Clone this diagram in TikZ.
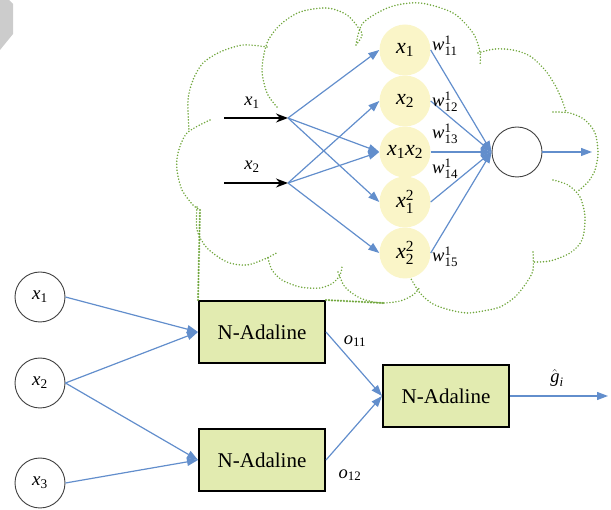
\documentclass[tikz,border=0pt]{standalone}
\usepackage{amsmath}
\usepackage{fontspec}
\setmainfont{Liberation Serif}
\usetikzlibrary{arrows.meta}
\definecolor{linkblue}{RGB}{98,142,204}
\definecolor{puffgreen}{RGB}{112,166,60}
\definecolor{termfill}{RGB}{250,245,200}
\definecolor{boxfill}{RGB}{226,235,176}
\newcommand{\vb}[1]{\text{\itshape #1}}
\newcommand{\ix}[1]{\text{#1}}

\begin{document}
\begin{tikzpicture}[x=1pt, y=-1pt,
        term/.style={circle, fill=termfill, minimum size=51pt, inner sep=0pt, font=\fontsize{22}{26}\selectfont},
        unit/.style={circle, draw=black!75, line width=0.9pt, fill=white, minimum size=50pt, inner sep=0pt, font=\fontsize{19}{23}\selectfont},
        adaline/.style={draw=black, line width=2pt, fill=boxfill, minimum width=126pt, minimum height=62pt, font=\fontsize{21}{25}\selectfont},
        wire/.style={linkblue, line width=1.2pt, -{Triangle[length=11pt, width=8pt]}},
        feed/.style={black, line width=1.5pt, -{Stealth[length=12pt, width=9pt]}},
        puff/.style={puffgreen, line width=1.7pt, line cap=round, dash pattern=on 0pt off 3pt},
        tag/.style={font=\fontsize{18.5}{22}\selectfont, inner sep=1pt}]
        \useasboundingbox (0, 0) rectangle (611, 510);

        % page corner
        \fill[black!20] (0, 0) -- (9, 0) -- (13, 4) -- (13, 34) -- (0, 50) -- cycle;

        % cloud
        \draw[puff] plot[smooth] coordinates {(277,107) (267,93) (262,70) (267,43) (280,25) (300,12) (327,8) (347,15) (360,30) (362,36) (356,45)};
        \draw[puff] plot[smooth] coordinates {(356,45) (363,23) (390,7) (420,3) (453,13) (473,33) (480,52) (480,65)};
        \draw[puff] plot[smooth] coordinates {(478,53) (495,49) (513,50) (530,56) (545,70) (555,85) (562,100) (566,112)};
        \draw[puff] plot[smooth] coordinates {(553,112) (570,113) (585,120) (595,133) (598,153) (595,170) (588,182) (577,192)};
        \draw[puff] plot[smooth] coordinates {(553,180) (568,185) (580,197) (585,217) (582,240) (570,253) (550,261) (533,262)};
        \draw[puff] plot[smooth] coordinates {(533,252) (533,270) (527,282) (515,297) (500,307) (483,311) (467,313) (450,310) (433,304) (420,293) (410,277)};
        \draw[puff] plot[smooth] coordinates {(338,272) (345,287) (360,298) (380,303) (400,301) (413,295) (420,287)};
        \draw[puff] plot[smooth] coordinates {(268,258) (272,270) (282,280) (300,287) (320,288) (333,283) (340,275) (342,267)};
        \draw[puff] plot[smooth] coordinates {(197,207) (197,230) (207,248) (227,262) (247,265) (267,258) (278,252)};
        \draw[puff] plot[smooth] coordinates {(210,120) (187,133) (178,153) (177,170) (182,190) (193,205) (200,210)};
        \draw[puff] plot[smooth] coordinates {(267,47) (243,45) (220,52) (203,63) (193,80) (188,100) (189,130)};

        % inside the cloud
        \node (y1) at (405, 50)[term] {$\vb{x}_{\ix{1}}$};
        \node (y2) at (405, 101)[term] {$\vb{x}_{\ix{2}}$};
        \node (y3) at (405, 152)[term] {$\vb{x}_{\ix{1}}\vb{x}_{\ix{2}}$};
        \node (y4) at (405, 202)[term] {$\vb{x}_{\ix{1}}^{\ix{2}}$};
        \node (y5) at (405, 253)[term] {$\vb{x}_{\ix{2}}^{\ix{2}}$};
        \node (out) at (517, 152)[unit] {};
        \coordinate (outend) at (592, 152);

        \coordinate (s1) at (224, 118);
        \coordinate (s2) at (224, 183);
        \coordinate (in1) at (288, 118);
        \coordinate (in2) at (288, 183);
        \node[tag] at (252, 103) {$\vb{x}_{\ix{1}}$};
        \node[tag] at (252, 167) {$\vb{x}_{\ix{2}}$};

        \draw[feed] (s1) -- (in1);
        \draw[feed] (s2) -- (in2);
        \draw[wire] (in1) -- (y1.west);
        \draw[wire] (in1) -- (y3.west);
        \draw[wire] (in1) -- (y4.west);
        \draw[wire] (in2) -- (y2.west);
        \draw[wire] (in2) -- (y3.west);
        \draw[wire] (in2) -- (y5.west);

        \draw[wire] (y1.east) -- (out.west);
        \draw[wire] (y2.east) -- (out.west);
        \draw[wire] (y3.east) -- (out.west);
        \draw[wire] (y4.east) -- (out.west);
        \draw[wire] (y5.east) -- (out.west);
        \draw[wire] (out) -- (outend);

        \node[tag, anchor=west] at (431, 46) {$\vb{w}_{\ix{11}}^{\ix{1}}$};
        \node[tag, anchor=west] at (431, 102) {$\vb{w}_{\ix{12}}^{\ix{1}}$};
        \node[tag, anchor=west] at (431, 134) {$\vb{w}_{\ix{13}}^{\ix{1}}$};
        \node[tag, anchor=west] at (431, 169) {$\vb{w}_{\ix{14}}^{\ix{1}}$};
        \node[tag, anchor=west] at (431, 257) {$\vb{w}_{\ix{15}}^{\ix{1}}$};

        % network
        \node (x1) at (40, 297)[unit] {$\vb{x}_{\ix{1}}$};
        \node (x2) at (40, 383)[unit] {$\vb{x}_{\ix{2}}$};
        \node (x3) at (40, 483)[unit] {$\vb{x}_{\ix{3}}$};

        \node (a1) at (262, 332)[adaline] {N-Adaline};
        \node (a2) at (262, 460)[adaline] {N-Adaline};
        \node (a3) at (446, 396)[adaline] {N-Adaline};
        \coordinate (ghat) at (608, 396);

        \draw[wire] (x1.east) -- (a1.west);
        \draw[wire] (x2.east) -- (a1.west);
        \draw[wire] (x2.east) -- (a2.west);
        \draw[wire] (x3.east) -- (a2.west);
        \draw[wire] (a1.east) -- (a3.west);
        \draw[wire] (a2.east) -- (a3.west);
        \draw[wire] (a3.east) -- (ghat);

        \node[tag] at (355, 341) {$\vb{o}_{\ix{11}}$};
        \node[tag] at (350, 475) {$\vb{o}_{\ix{12}}$};
        \node[tag] at (557, 378) {$\hat{\vb{g}}_{\vb{i}}$};

        % link to the cloud
        \coordinate (c1) at (200, 210);
        \coordinate (c2) at (383, 303);
        \draw[puff, line width=2.4pt] (a1.north west) -- (c1);
        \draw[puff, line width=2.4pt] (a1.north east) -- (c2);
    \end{tikzpicture}
\end{document}
